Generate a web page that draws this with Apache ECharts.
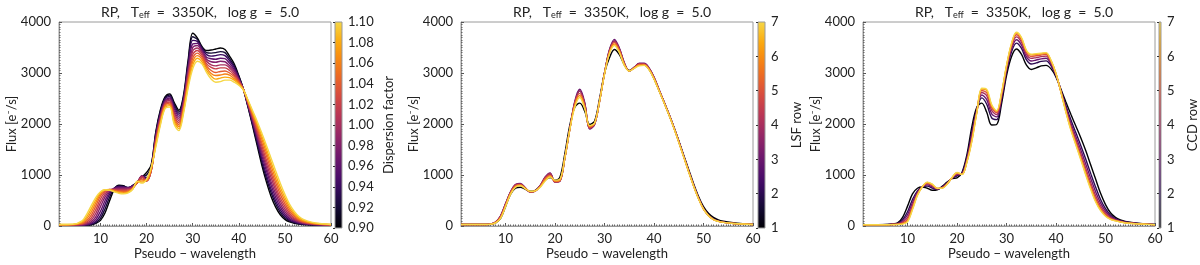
<!DOCTYPE html>
<html><head><meta charset="utf-8">
<script src="https://cdn.jsdelivr.net/npm/echarts@6/dist/echarts.min.js"></script>
<style>html,body{margin:0;padding:0;background:#fff}#c{width:1200px;height:265px}</style>
</head><body><div id="c"></div>
<script>
// ---------- data ----------
const pseudoWavelength = [1,4,6,7,8,9,10,11,12,13,14,15,16,17,18,19,20,21,22,23,24,25,26,27,28,29,30,31,32,33,34,35,36,37,38,39,40,41,42,43,44,45,46,47,48,49,50,51,52,53,54,56,58,60];

// Panel 1: dispersion factor
const dispersionFactors = [0.90,0.92,0.94,0.96,0.98,1.00,1.02,1.04,1.06,1.08,1.10];
const disp090 = [15,15,15,18,25,50,110,260,500,720,800,790,740,790,870,960,1050,1200,1850,2280,2530,2590,2420,2270,2560,3250,3780,3690,3520,3440,3450,3470,3490,3460,3330,3180,2950,2680,2330,1960,1570,1190,860,580,370,220,130,80,55,40,30,20,15,12];
const disp092 = [16,17,16,20,30,65,150,340,570,740,790,780,750,795,860,965,1000,1170,1820,2250,2510,2570,2380,2230,2520,3190,3710,3660,3500,3400,3390,3400,3420,3400,3280,3140,2930,2680,2340,1990,1620,1250,930,650,430,265,160,100,65,47,35,23,17,13];
const disp094 = [17,18,18,24,40,90,210,420,630,745,775,770,755,790,860,975,950,1140,1790,2220,2490,2540,2340,2190,2490,3140,3640,3620,3480,3360,3330,3340,3360,3340,3240,3110,2910,2680,2360,2020,1670,1310,1000,720,490,315,195,120,80,55,40,26,19,15];
const disp096 = [18,20,20,30,55,130,290,500,670,740,760,755,750,780,855,980,910,1110,1760,2190,2460,2510,2300,2150,2450,3080,3570,3580,3450,3310,3280,3270,3290,3280,3190,3070,2890,2680,2370,2050,1720,1380,1080,800,560,370,235,145,95,65,47,30,21,16];
const disp098 = [19,21,24,40,80,185,380,570,695,730,740,740,740,770,850,985,890,1090,1730,2160,2440,2490,2250,2110,2420,3030,3500,3540,3420,3270,3220,3210,3230,3220,3140,3040,2870,2680,2390,2080,1760,1440,1150,870,630,430,280,175,115,77,55,34,24,18];
const disp100 = [20,22,30,55,115,250,460,620,710,720,720,720,725,760,850,975,880,1080,1700,2130,2420,2460,2210,2070,2380,2970,3430,3490,3390,3230,3160,3140,3160,3160,3100,3000,2860,2680,2400,2110,1810,1500,1220,950,700,490,330,210,135,90,63,38,27,20];
const disp102 = [21,24,38,75,160,320,530,660,715,710,700,700,705,750,850,950,880,1080,1670,2100,2390,2430,2160,2030,2340,2920,3360,3440,3350,3180,3110,3080,3100,3100,3050,2960,2840,2680,2410,2140,1860,1570,1290,1030,770,550,385,250,160,105,72,43,30,22];
const disp104 = [22,25,48,105,215,395,590,690,715,700,685,680,690,740,855,920,885,1090,1640,2070,2370,2410,2120,1990,2310,2860,3290,3390,3310,3140,3050,3010,3030,3040,3000,2930,2820,2680,2430,2170,1910,1630,1370,1100,850,620,440,290,190,120,83,49,33,24];
const disp106 = [23,27,62,140,275,460,630,705,710,690,670,660,675,735,860,885,895,1110,1610,2040,2350,2380,2080,1950,2270,2810,3220,3340,3270,3100,2990,2950,2960,2980,2960,2890,2800,2670,2440,2200,1960,1700,1440,1180,920,690,500,335,220,140,97,55,37,26];
const disp108 = [28,32,80,180,335,515,655,710,705,680,655,645,660,725,870,860,905,1130,1580,2010,2320,2360,2030,1910,2240,2750,3150,3290,3220,3050,2940,2880,2900,2920,2910,2860,2780,2670,2460,2230,2000,1760,1510,1250,1000,760,560,380,255,165,112,62,41,28];
const disp110 = [30,35,100,230,400,560,670,710,700,670,640,630,650,720,880,840,920,1150,1550,1980,2300,2330,1990,1870,2200,2700,3080,3230,3180,3010,2880,2820,2830,2860,2860,2820,2760,2670,2470,2260,2050,1820,1580,1330,1080,840,620,430,290,190,130,70,45,30];

// Panel 2: LSF row
const lsfRows = [1,2,3,4,5,6,7];
const lsfRow1 = [30,30,30,35,60,150,380,620,740,760,720,680,700,780,900,950,900,960,1430,1980,2330,2410,2250,1990,2060,2500,3000,3300,3460,3360,3160,3050,3100,3160,3160,3070,2890,2660,2430,2190,1940,1670,1390,1110,830,580,380,250,170,120,95,65,45,30];
const lsfRow2 = [30,30,30,38,75,190,430,660,800,820,740,670,690,790,940,1020,880,900,1360,1920,2420,2650,2400,1920,2000,2460,3000,3440,3630,3470,3190,3040,3110,3180,3180,3090,2910,2670,2440,2200,1940,1660,1370,1080,800,550,340,210,135,95,75,52,40,30];
const lsfRow3 = [30,30,30,40,80,200,440,670,815,835,750,665,685,795,960,1040,860,880,1340,1910,2450,2680,2420,1900,1990,2450,3000,3460,3660,3490,3200,3040,3110,3190,3190,3100,2920,2680,2440,2200,1940,1660,1370,1080,800,550,340,210,130,95,75,52,40,30];
const lsfRow4 = [30,30,30,40,78,195,430,660,810,825,745,665,685,790,950,1030,860,880,1340,1910,2430,2650,2390,1910,2000,2450,3000,3440,3630,3470,3190,3040,3110,3180,3180,3090,2910,2670,2435,2195,1935,1655,1365,1075,795,545,335,210,130,95,72,50,40,30];
const lsfRow5 = [30,30,30,38,72,180,410,650,790,810,740,670,690,780,930,1000,870,890,1340,1905,2400,2600,2360,1930,2010,2450,2990,3420,3600,3450,3180,3040,3100,3170,3170,3080,2900,2665,2430,2190,1930,1650,1360,1070,790,540,335,205,130,92,72,50,38,30];
const lsfRow6 = [30,30,30,36,66,165,395,635,775,800,735,675,690,770,905,980,880,900,1345,1900,2370,2560,2330,1950,2015,2450,2985,3400,3570,3420,3165,3040,3095,3155,3160,3070,2890,2660,2425,2185,1925,1645,1355,1065,785,535,330,205,125,92,70,50,38,30];
const lsfRow7 = [30,30,30,35,60,150,380,620,760,790,730,680,690,760,880,960,900,920,1350,1900,2330,2520,2300,1970,2020,2450,2980,3380,3540,3400,3150,3040,3090,3140,3150,3060,2880,2650,2420,2180,1920,1640,1350,1060,780,530,330,200,125,90,70,50,38,30];

// Panel 3: CCD row
const ccdRows = [1,2,3,4,5,6,7];
const ccdRow1 = [25,25,30,40,60,170,390,630,740,765,740,700,710,780,860,930,945,1050,1400,1950,2330,2410,2230,1980,1990,2400,2950,3320,3470,3370,3160,3070,3100,3140,3150,3080,2920,2680,2430,2190,1960,1730,1480,1200,920,640,420,260,170,120,90,60,42,30];
const ccdRow2 = [25,25,28,35,50,124,280,520,690,767,782,742,720,766,846,937,982,1036,1348,1849,2292,2512,2388,2120,2085,2477,3020,3411,3586,3486,3262,3175,3198,3228,3238,3140,2945,2659,2360,2082,1831,1580,1312,1032,763,521,340,215,146,106,80,55,40,28];
const ccdRow3 = [25,25,27,33,44,97,220,460,663,768,806,766,726,758,838,941,1003,1028,1318,1791,2270,2570,2478,2200,2139,2521,3060,3463,3652,3552,3320,3235,3254,3278,3288,3174,2959,2647,2320,2020,1757,1494,1216,936,673,453,294,189,132,98,74,52,38,27];
const ccdRow4 = [25,25,26,31,38,75,167,407,639,769,826,786,732,751,831,944,1021,1021,1292,1741,2251,2619,2554,2268,2184,2558,3094,3507,3708,3608,3369,3286,3302,3320,3330,3202,2970,2637,2286,1967,1694,1420,1134,854,596,395,254,166,120,91,68,49,37,26];
const ccdRow5 = [25,25,26,29,35,58,127,367,621,769,842,802,735,746,826,947,1034,1016,1273,1704,2237,2657,2613,2320,2220,2587,3120,3541,3751,3651,3407,3325,3338,3353,3363,3225,2980,2629,2260,1926,1646,1365,1072,792,538,351,225,150,111,86,65,47,36,26];
const ccdRow6 = [25,25,25,28,32,45,96,336,607,770,854,814,738,742,822,949,1045,1012,1258,1675,2226,2686,2658,2360,2247,2609,3140,3567,3784,3684,3436,3355,3366,3378,3388,3242,2987,2623,2240,1896,1609,1322,1024,744,493,317,202,137,104,82,62,46,35,25];
const ccdRow7 = [25,25,25,27,30,38,80,320,600,770,860,820,740,740,820,950,1050,1010,1250,1660,2220,2700,2680,2380,2260,2620,3150,3580,3800,3700,3450,3370,3380,3390,3400,3250,2990,2620,2230,1880,1590,1300,1000,720,470,300,190,130,100,80,60,45,35,25];

// ticks
const xTickValues = [10,20,30,40,50,60];
const fluxTicks = [0,1000,2000,3000,4000];
const dispTicks = [0.90,0.92,0.94,0.96,0.98,1.00,1.02,1.04,1.06,1.08,1.10];
const rowTicks = [1,2,3,4,5,6,7];

// ---------- style ----------
const F = 'Lato, "DejaVu Sans", sans-serif';
const TXT = '#222';
const FRAME = '#9a9a9a';
const INFERNO = ['#000004','#160b39','#420a68','#6a176e','#932667','#bc3754','#dd513a','#f37819','#fca50a','#f6d746','#fcffa4'];
const CMAP_TOP = 0.9;
function hex2rgb(h){return [parseInt(h.slice(1,3),16),parseInt(h.slice(3,5),16),parseInt(h.slice(5,7),16)];}
function cmap(t){
  const p = t*CMAP_TOP*10; const i = Math.min(9, Math.floor(p)); const f = p - i;
  const a = hex2rgb(INFERNO[i]), b = hex2rgb(INFERNO[i+1]);
  const c = a.map((v,j)=>Math.round(v+(b[j]-v)*f));
  return 'rgb('+c.join(',')+')';
}
const gradStops = [];
for (let j=0;j<=20;j++) gradStops.push({offset:j/20, color:cmap(j/20)});

const minorX = [];
for (let v=1.5; v<60; v+=0.5) minorX.push(v);

const panels = [
  {left:59, width:272, cbLeft:335, cbName:'Dispersion factor', cbNameGap:40, cbMin:0.90, cbMax:1.10, cbInterval:0.02, cbDigits:2,
   values: dispersionFactors, curves:[disp090,disp092,disp094,disp096,disp098,disp100,disp102,disp104,disp106,disp108,disp110]},
  {left:461, width:292, cbLeft:758, cbName:'LSF row', cbNameGap:25, cbMin:1, cbMax:7, cbInterval:1, cbDigits:0,
   values: lsfRows, curves:[lsfRow1,lsfRow2,lsfRow3,lsfRow4,lsfRow5,lsfRow6,lsfRow7]},
  {left:863, width:292, cbLeft:1159, cbName:'CCD row', cbNameGap:25, cbMin:1, cbMax:7, cbInterval:1, cbDigits:0,
   values: ccdRows, curves:[ccdRow1,ccdRow2,ccdRow3,ccdRow4,ccdRow5,ccdRow6,ccdRow7]}
];

const TOP = 22, H = 206, CBW = 7;
const grid = [], xAxis = [], yAxis = [], series = [], title = [];
panels.forEach((p, pi) => {
  grid.push({left:p.left, top:TOP, width:p.width, height:H, show:true, borderColor:FRAME, borderWidth:1, backgroundColor:'transparent', containLabel:false});
  grid.push({left:p.cbLeft, top:TOP, width:CBW, height:H, show:false});
  const g = pi*2;
  xAxis.push({gridIndex:g, type:'value', min:1, max:60, position:'bottom',
    name:'Pseudo \u2212 wavelength', nameLocation:'middle', nameGap:21, nameMoveOverlap:false,
    nameTextStyle:{fontSize:13, color:TXT, fontFamily:F},
    axisLine:{show:true, lineStyle:{color:FRAME}},
    axisTick:{show:true, inside:true, length:3, customValues:xTickValues, lineStyle:{color:'#555'}},
    axisLabel:{customValues:xTickValues, fontSize:13, color:TXT, fontFamily:F, margin:6},
    splitLine:{show:false}});
  xAxis.push({gridIndex:g, type:'value', min:1, max:60, position:'bottom',
    axisLine:{show:false}, axisLabel:{show:false},
    axisTick:{show:true, inside:true, length:1.5, customValues:minorX, lineStyle:{color:'#666'}},
    splitLine:{show:false}});
  xAxis.push({gridIndex:g+1, type:'value', min:0, max:1, show:false});
  yAxis.push({gridIndex:g, type:'value', min:fluxTicks[0], max:fluxTicks[fluxTicks.length-1], interval:1000,
    name:'Flux [e\u207B/s]', nameLocation:'middle', nameGap:41, nameMoveOverlap:false,
    nameTextStyle:{fontSize:13, color:TXT, fontFamily:F},
    axisLine:{show:true, lineStyle:{color:FRAME}},
    axisTick:{show:true, inside:true, length:3, lineStyle:{color:'#555'}},
    minorTick:{show:true, splitNumber:20, length:1.5, lineStyle:{color:'#666'}},
    axisLabel:{fontSize:13, color:TXT, fontFamily:F, margin:8, formatter:v=>String(v)},
    splitLine:{show:false}});
  yAxis.push({gridIndex:g+1, type:'value', min:p.cbMin, max:p.cbMax, interval:p.cbInterval, position:'right', z:5,
    name:p.cbName, nameLocation:'middle', nameRotate:90, nameGap:p.cbNameGap, nameMoveOverlap:false,
    nameTextStyle:{fontSize:13, color:TXT, fontFamily:F, verticalAlign:'top', align:'center'},
    axisLine:{show:false},
    axisTick:{show:true, inside:true, length:2, lineStyle:{color:'#333'}},
    axisLabel:{fontSize:13, color:TXT, fontFamily:F, margin:6, formatter:v=>Number(v).toFixed(p.cbDigits)},
    splitLine:{show:false}});
  const xi = pi*3, yi = pi*2;
  const n = p.curves.length;
  p.curves.forEach((arr, k) => {
    series.push({type:'line', xAxisIndex:xi, yAxisIndex:yi, name:String(p.values[k]),
      data: pseudoWavelength.map((x,i)=>[x, arr[i]]),
      smooth:0.35, showSymbol:false, symbol:'none', silent:true,
      lineStyle:{width:1.4, color:cmap(k/(n-1))}, z:2+k*0.01});
  });
  series.push({type:'custom', xAxisIndex:xi+2, yAxisIndex:yi+1, silent:true, z:1,
    data:[[0, p.cbMin, 1, p.cbMax]], encode:{x:[0,2], y:[1,3]},
    renderItem:(params, api)=>{
      const a = api.coord([api.value(0), api.value(1)]);
      const b = api.coord([api.value(2), api.value(3)]);
      return {type:'rect', shape:{x:a[0], y:b[1], width:b[0]-a[0], height:a[1]-b[1]},
        style:{fill:{type:'linear', x:0, y:1, x2:0, y2:0, colorStops:gradStops}, stroke:FRAME, lineWidth:1}};
    }});
  title.push({text:'RP,   T{s|eff}  =  3350K,   log g  =  5.0', left:p.left + p.width/2, textAlign:'center', top:0,
    textStyle:{fontSize:14, fontWeight:'normal', color:TXT, fontFamily:F,
      rich:{s:{fontSize:9, color:TXT, fontFamily:F, verticalAlign:'bottom', padding:[6,0,0,0]}}}});
});

const chart = echarts.init(document.getElementById('c'), null, {renderer:'canvas'});
chart.setOption({animation:false, backgroundColor:'#fff', title, grid, xAxis, yAxis, series});
</script></body></html>
